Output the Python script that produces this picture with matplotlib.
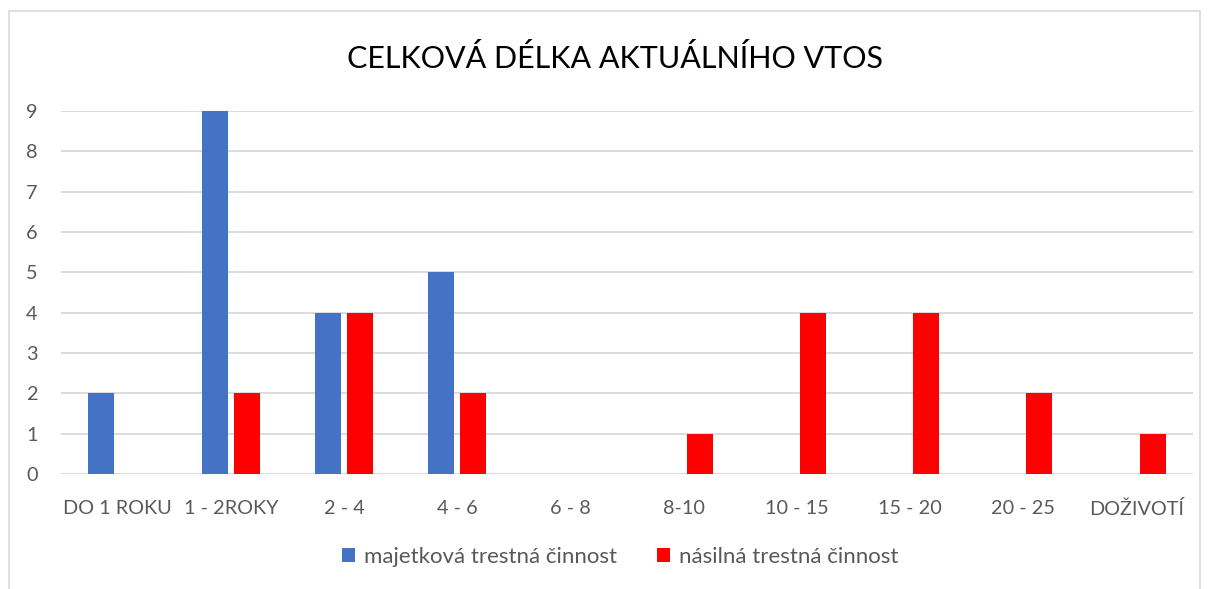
import matplotlib
matplotlib.use("Agg")
import matplotlib.pyplot as plt
from matplotlib.patches import Rectangle
import numpy as np

# === Data ===
kategorie = ["DO 1 ROKU", "1 - 2ROKY", "2 - 4", "4 - 6", "6 - 8", "8-10",
             "10 - 15", "15 - 20", "20 - 25", "DOŽIVOTÍ"]
majetkova = [2, 9, 4, 5, 0, 0, 0, 0, 0, 0]
nasilna = [0, 2, 4, 2, 0, 1, 4, 4, 2, 1]

plt.rcParams['font.family'] = ['Lato', 'DejaVu Sans']

fig = plt.figure(figsize=(12.09, 5.89), dpi=100)
ax = fig.add_axes([61 / 1209, 1 - 474 / 589, (1193 - 61) / 1209, (474 - 111) / 589])

# ramecek grafu
fig.patches.append(Rectangle((9 / 1209, -0.05), (1200 - 9) / 1209, 1.05 - 11 / 589,
                             transform=fig.transFigure, fill=False,
                             edgecolor="#d9d9d9", linewidth=1.2))

x = np.arange(len(kategorie))
w = 0.23
off = 0.1435
ax.bar(x - off, majetkova, w, color="#4472c4", label="majetková trestná činnost", zorder=3)
ax.bar(x + off, nasilna, w, color="#ff0000", label="násilná trestná činnost", zorder=3)

ax.set_xlim(-0.5, len(kategorie) - 0.5)
ax.set_ylim(0, 9)
ax.set_yticks(range(0, 10))
ax.set_xticks(x)
ax.set_xticklabels(kategorie)
ax.yaxis.grid(True, color="#d9d9d9", linewidth=1.3, zorder=0)
ax.set_axisbelow(True)
for s in ax.spines.values():
    s.set_visible(False)
ax.tick_params(axis="both", length=0, labelsize=14.3, colors="#595959")
ax.tick_params(axis="x", pad=19)
ax.tick_params(axis="y", pad=17)

fig.text(615 / 1209, 1 - 58 / 589, "CELKOVÁ DÉLKA AKTUÁLNÍHO VTOS",
         ha="center", va="center", fontsize=22, color="black")

fig.legend(loc="center", bbox_to_anchor=(620 / 1209, 1 - 557 / 589), ncol=2,
           frameon=False, fontsize=16, handlelength=0.6, handleheight=0.6,
           columnspacing=1.8, handletextpad=0.4, labelcolor="#595959")

plt.savefig("out.png", dpi=100)
